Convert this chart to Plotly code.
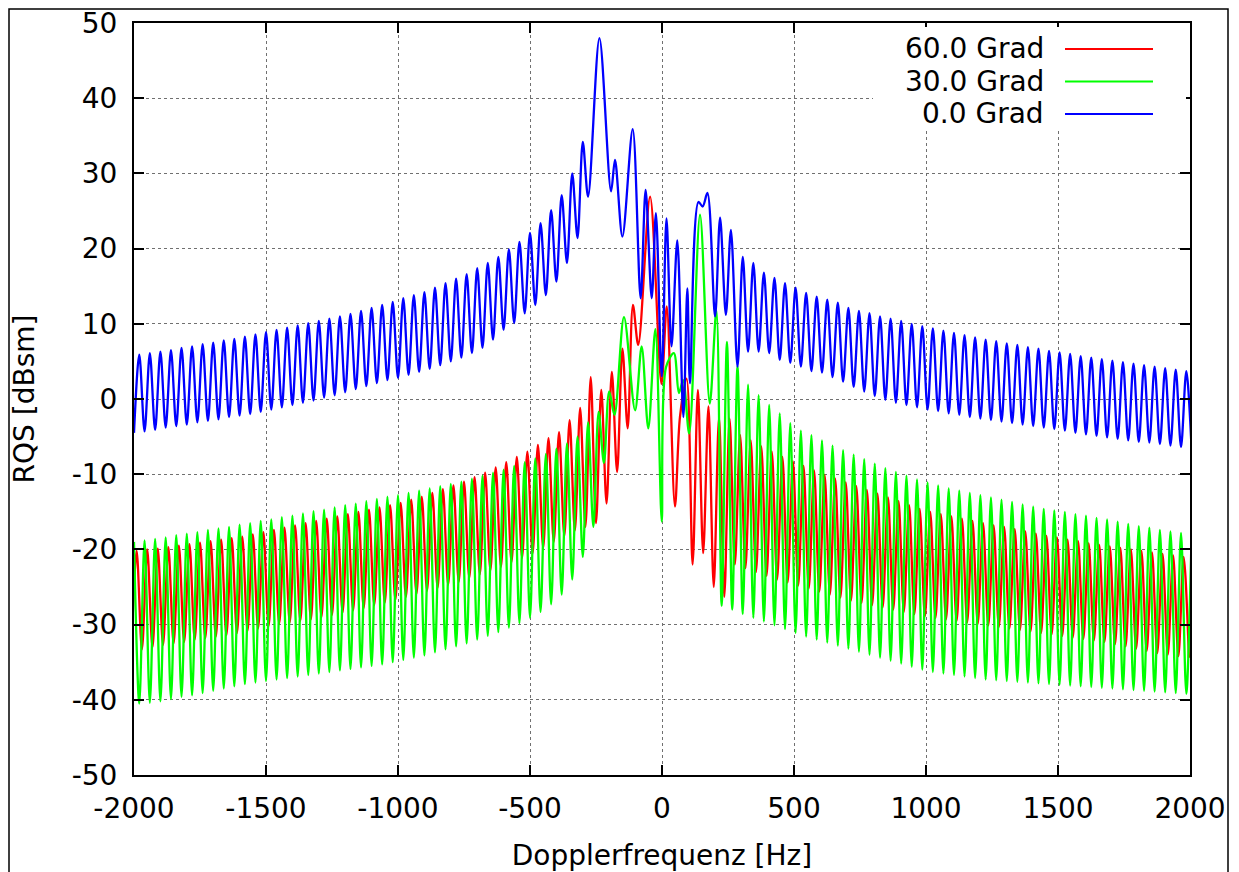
import plotly.graph_objects as go

# ---------------- data ----------------
LOBE_HZ = 40  # spacing of the side lobes in Hz

x_ticks = [-2000, -1500, -1000, -500, 0, 500, 1000, 1500, 2000]
x_tick_labels = ["-2000", "-1500", "-1000", "-500", "0", "500", "1000", "1500", "2000"]
y_ticks = [-50, -40, -30, -20, -10, 0, 10, 20, 30, 40, 50]
y_tick_labels = ["-50", "-40", "-30", "-20", "-10", "0", "10", "20", "30", "40", "50"]

series_names = ["60.0 Grad", "30.0 Grad", "0.0 Grad"]

# ---- 0.0 Grad (blue) ----
blue_left_nulls = [-4.5, -4.3, -4.1, -3.8, -3.6, -3.4, -3.1, -2.9, -2.7, -2.4, -2.2, -2.0, -1.7,
                   -1.4, -1.1, -0.8, -0.5, -0.2, 0.2, 0.5, 0.9, 1.3, 1.7, 2.1, 2.5, 2.8,
                   3.2, 3.6, 4.0, 4.5, 5.0, 5.5, 6.1, 6.8, 7.9, 9.2, 10.1, 11.4, 12.5, 13.8,
                   15.6, 18.1, 21.4, 26.9]
blue_left_peaks = [5.9, 6.1, 6.3, 6.5, 6.8, 7.0, 7.3, 7.5, 7.8, 8.0, 8.3, 8.6, 8.9, 9.2, 9.5,
                   9.8, 10.1, 10.4, 10.7, 11.0, 11.3, 11.7, 12.1, 12.5, 12.9,
                   13.4, 13.8, 14.2, 14.8, 15.4, 16.0, 16.6, 17.4, 18.1, 18.9, 19.9, 20.9,
                   22.1, 23.4, 25.1, 27.1, 30.0, 34.2]
blue_center_f = [-237, -193, -178, -150, -111, -81, -62, -39, -23, -1, 17, 36, 58, 81, 96,
                 106, 138, 154, 172, 201, 220, 242, 261]
blue_center_v = [48.0, 27.6, 31.8, 21.6, 35.9, 13.4, 27.8, 13.4, 24.7, 3.0, 24.0, 7.0, 21.1,
                 -2.4, 14.7, 2.1, 26.2, 25.6, 27.4, 11.0, 24.1, 11.2, 22.5]
blue_right_nulls = [4.3, 6.3, 6.3, 6.1, 5.2, 4.8, 4.3, 3.7, 3.5, 2.9, 2.3, 1.6,
                    1.0, 0.4, -0.1, -0.5, -0.8, -1.1, -1.4, -1.6, -1.9, -2.1, -2.4, -2.6,
                    -2.8, -3.0, -3.2, -3.4, -3.6, -3.8, -4.0, -4.2, -4.5, -4.7, -4.9, -5.1,
                    -5.3, -5.5, -5.7, -5.8, -6.0, -6.2, -6.4, -6.6]
blue_right_peaks = [18.9, 18.1, 16.8, 16.1, 15.4, 14.8, 14.1, 13.6, 13.2, 12.8, 12.1,
                    11.7, 11.4, 11.0, 10.7, 10.4,
                    10.0, 9.7, 9.4, 9.1, 8.8, 8.5, 8.2, 7.9, 7.7, 7.4, 7.2, 6.9, 6.7, 6.4,
                    6.2, 6.0, 5.7, 5.5, 5.3, 5.1, 4.9, 4.7, 4.5, 4.3, 4.1, 3.9, 3.7]

# ---- 30.0 Grad (green) ----
green_left_peaks = [-19.0, -18.8, -18.6, -18.4, -18.1, -17.9, -17.7, -17.4, -17.2, -17.0,
                    -16.7, -16.5, -16.2, -16.0, -15.7, -15.5, -15.2, -14.9, -14.7, -14.4,
                    -14.1, -13.9, -13.6, -13.3, -13.0, -12.8,
                    -12.5, -12.2, -11.9, -11.6, -11.3, -11.0, -10.6, -10.2, -9.8, -9.4,
                    -8.9, -8.4, -7.9, -7.3, -6.6, -5.9, -5.0, -3.1, -1.7, 1.0]
green_left_nulls = [-40.5, -40.4, -40.2, -39.9, -39.6, -39.4, -39.1, -38.8, -38.5, -38.2,
                    -37.9, -37.7, -37.5, -37.3, -37.1, -36.9, -36.7, -36.5, -36.3, -36.1,
                    -35.9, -35.7, -35.5, -35.3, -35.0,
                    -34.7, -34.4, -34.1, -33.7, -33.3, -32.9, -32.5, -32.0, -31.5, -31.0,
                    -30.4, -29.8, -29.1, -28.3, -27.3, -26.0, -24.0, -21.0, -17.0, -8.5, -2.1]
green_center_f = [-144, -102, -77, -52, -25, -1, 15, 45, 64, 80, 103, 144, 181]
green_center_v = [10.9, -1.5, 7.0, -3.9, 9.3, -16.3, 4.2, 6.1, 0.8, 2.5, -4.6, 24.5, -0.6]
green_right_peaks = [11.8, 7.6, 4.4, 1.9, 0.5, -0.8, -1.9, -3.2, -4.2, -4.8, -5.5, -6.2, -6.8,
                     -7.4, -8.0, -8.6, -9.2, -9.7, -10.2, -10.7, -11.1, -11.5, -11.9, -12.2,
                     -12.5, -12.8, -13.1, -13.4, -13.7, -14.0, -14.3, -14.6, -14.8, -15.0,
                     -15.3, -15.5, -15.8, -16.0, -16.3, -16.6, -16.9, -17.1, -17.4, -17.6,
                     -17.8, -18.0]
green_right_nulls = [-27.5, -28.0, -28.6, -29.1, -29.6, -30.1, -30.6, -31.1, -31.6, -32.0,
                     -32.4, -32.8, -33.2, -33.6, -34.0, -34.4, -34.8, -35.2, -35.6, -36.0,
                     -36.3, -36.5, -36.7, -36.9, -37.1, -37.3, -37.4, -37.5, -37.6, -37.7,
                     -37.8, -37.9, -38.0, -38.1, -38.2, -38.3, -38.4, -38.5, -38.6, -38.7,
                     -38.8, -38.9, -39.0, -39.1, -39.2]

# ---- 60.0 Grad (red) ----
red_left_nulls = [-33.5, -33.3, -33.0, -32.7, -32.5, -32.3, -32.0, -31.8, -31.6, -31.4, -31.1,
                  -30.8, -30.5, -30.2, -29.9, -29.7, -29.5, -29.3, -29.0, -28.7, -28.4,
                  -28.1, -27.8, -27.4, -27.1, -26.7,
                  -26.3, -25.9, -25.5, -25.1, -24.7, -24.3, -23.8, -23.3, -22.8, -22.3,
                  -21.7, -21.1, -20.5, -19.8, -19.0, -18.2, -17.5, -17.0, -16.5, -13.9,
                  -9.7, -3.9, 7.2]
red_left_peaks = [-20.2, -20.0, -19.9, -19.7, -19.5, -19.3, -19.1, -18.9, -18.7, -18.5,
                  -18.3, -18.0, -17.7, -17.4, -17.1, -16.8, -16.5, -16.2, -15.9, -15.6,
                  -15.3, -15.0, -14.7, -14.4, -14.1,
                  -13.8, -13.4, -13.0, -12.5, -12.0, -11.5, -11.0, -10.4, -9.8, -9.1,
                  -8.4, -7.7, -7.0, -6.1, -5.2, -4.4, -2.8, -1.2, 2.9, 1.2, 3.6, 6.7, 12.5]
red_center_f = [-45, -2, 18, 49, 68, 93]
red_center_v = [26.9, 2.0, 12.3, -14.3, -2.4, 2.7]
red_right_nulls = [-22.0, -20.5, -25.0, -26.3,
                   -22.0, -22.5, -23.0, -23.5, -24.0, -24.4, -24.8, -25.2, -25.6, -26.0,
                   -26.4, -26.8, -27.1, -27.4, -27.7, -28.0, -28.3, -28.6, -28.9, -29.1,
                   -29.3, -29.5, -29.7, -29.9, -30.1, -30.3, -30.5, -30.7, -30.9, -31.1,
                   -31.3, -31.5, -31.7, -31.9, -32.1, -32.3, -32.6, -32.9, -33.2, -33.5,
                   -33.8, -34.0, -34.2, -34.4]
red_right_peaks = [1.2, -1.0, -2.4, -2.6, -4.8, -5.5, -6.3,
                   -7.0, -7.7, -8.3, -8.9, -9.5, -10.1, -10.6, -11.1, -11.6, -12.1, -12.6,
                   -13.1, -13.6, -14.1, -14.6, -15.0,
                   -15.3, -15.6, -15.9, -16.2, -16.5, -16.8, -17.0, -17.3, -17.6, -17.9,
                   -18.2, -18.4, -18.7, -18.9, -19.2, -19.4, -19.6, -19.8, -20.0, -20.2,
                   -20.4, -20.6, -20.8, -21.0]


def lobes(f_start, first_vals, second_vals):
    """Alternate two value lists on the regular side-lobe grid (half a lobe apart)."""
    f, v = [], []
    for i in range(max(len(first_vals), len(second_vals))):
        if i < len(first_vals):
            f.append(f_start + LOBE_HZ * i)
            v.append(first_vals[i])
        if i < len(second_vals):
            f.append(f_start + LOBE_HZ * i + LOBE_HZ / 2)
            v.append(second_vals[i])
    return f, v


def assemble(left, center_f, center_v, right):
    return left[0] + center_f + right[0], left[1] + center_v + right[1]


blue_f, blue_v = assemble(lobes(-2000, blue_left_nulls, blue_left_peaks),
                          blue_center_f, blue_center_v,
                          lobes(286, blue_right_nulls, blue_right_peaks))
green_f, green_v = assemble(lobes(-2000, green_left_peaks, green_left_nulls),
                            green_center_f, green_center_v,
                            lobes(206, green_right_peaks, green_right_nulls))
red_f, red_v = assemble(lobes(-2010, red_left_nulls, red_left_peaks),
                        red_center_f, red_center_v,
                        lobes(116, red_right_nulls, red_right_peaks))

colors = ["#ff0000", "#00ff00", "#0000ff"]

# ---------------- figure ----------------
FONT = "DejaVu Sans"
PAGE = 8                      # default body margin of the html page
W, H = 1239 - PAGE, 872 - PAGE
L, R, T, B = 134, 1190, 23, 775  # wanted plot area in window pixels


def px_x(p):
    return (p - L) / (R - L)


def px_y(p):
    return (B - p) / (B - T)


fig = go.Figure()
for name, f, v, c in zip(series_names, [red_f, green_f, blue_f], [red_v, green_v, blue_v], colors):
    fig.add_trace(go.Scatter(x=f, y=v, mode="lines", name=name,
                             line=dict(color=c, width=2.3, shape="spline", smoothing=0.9),
                             showlegend=False))

axis_common = dict(showline=True, linecolor="black", linewidth=2, mirror="ticks",
                   ticks="inside", ticklen=10, tickwidth=2, tickcolor="black",
                   showgrid=True, gridcolor="#707070", griddash="dot", gridwidth=1,
                   zeroline=False, ticklabeloverflow="allow", automargin=False,
                   tickfont=dict(family=FONT, size=28, color="black"))

fig.update_xaxes(range=[-2000, 2000], tickvals=x_ticks, ticktext=x_tick_labels,
                 ticklabelstandoff=7,
                 title=dict(text="Dopplerfrequenz [Hz]", font=dict(family=FONT, size=28, color="black"),
                            standoff=26),
                 **axis_common)
fig.update_yaxes(range=[-50, 50], tickvals=y_ticks, ticktext=y_tick_labels,
                 ticklabelstandoff=9,
                 title=dict(text="RQS [dBsm]", font=dict(family=FONT, size=28, color="black"),
                            standoff=33),
                 **axis_common)

shapes = []
# outer picture frame
shapes.append(dict(type="rect", xref="paper", yref="paper", x0=px_x(PAGE + 1), x1=px_x(1228),
                   y0=px_y(900), y1=px_y(PAGE + 1), line=dict(color="black", width=1.5),
                   fillcolor="rgba(0,0,0,0)", layer="above"))
# key box (white, covers the grid)
shapes.append(dict(type="rect", xref="paper", yref="paper", x0=px_x(873), x1=px_x(1186),
                   y0=px_y(131), y1=px_y(27), line=dict(width=0), fillcolor="white",
                   layer="above"))
annotations = []
for i, (name, c) in enumerate(zip(series_names, colors)):
    yrow = 49 + i * 32.5
    shapes.append(dict(type="line", xref="paper", yref="paper", x0=px_x(1065), x1=px_x(1153),
                       y0=px_y(yrow), y1=px_y(yrow), line=dict(color=c, width=2), layer="above"))
    annotations.append(dict(xref="paper", yref="paper", x=px_x(1046), y=px_y(yrow), text=name,
                            showarrow=False, xanchor="right", yanchor="middle",
                            font=dict(family=FONT, size=28, color="black")))

fig.update_layout(width=W, height=H,
                  margin=dict(l=L - PAGE, r=W - (R - PAGE), t=T - PAGE, b=H - (B - PAGE),
                              autoexpand=False),
                  plot_bgcolor="white", paper_bgcolor="white",
                  shapes=shapes, annotations=annotations, showlegend=False)

fig.write_html("out.html")
